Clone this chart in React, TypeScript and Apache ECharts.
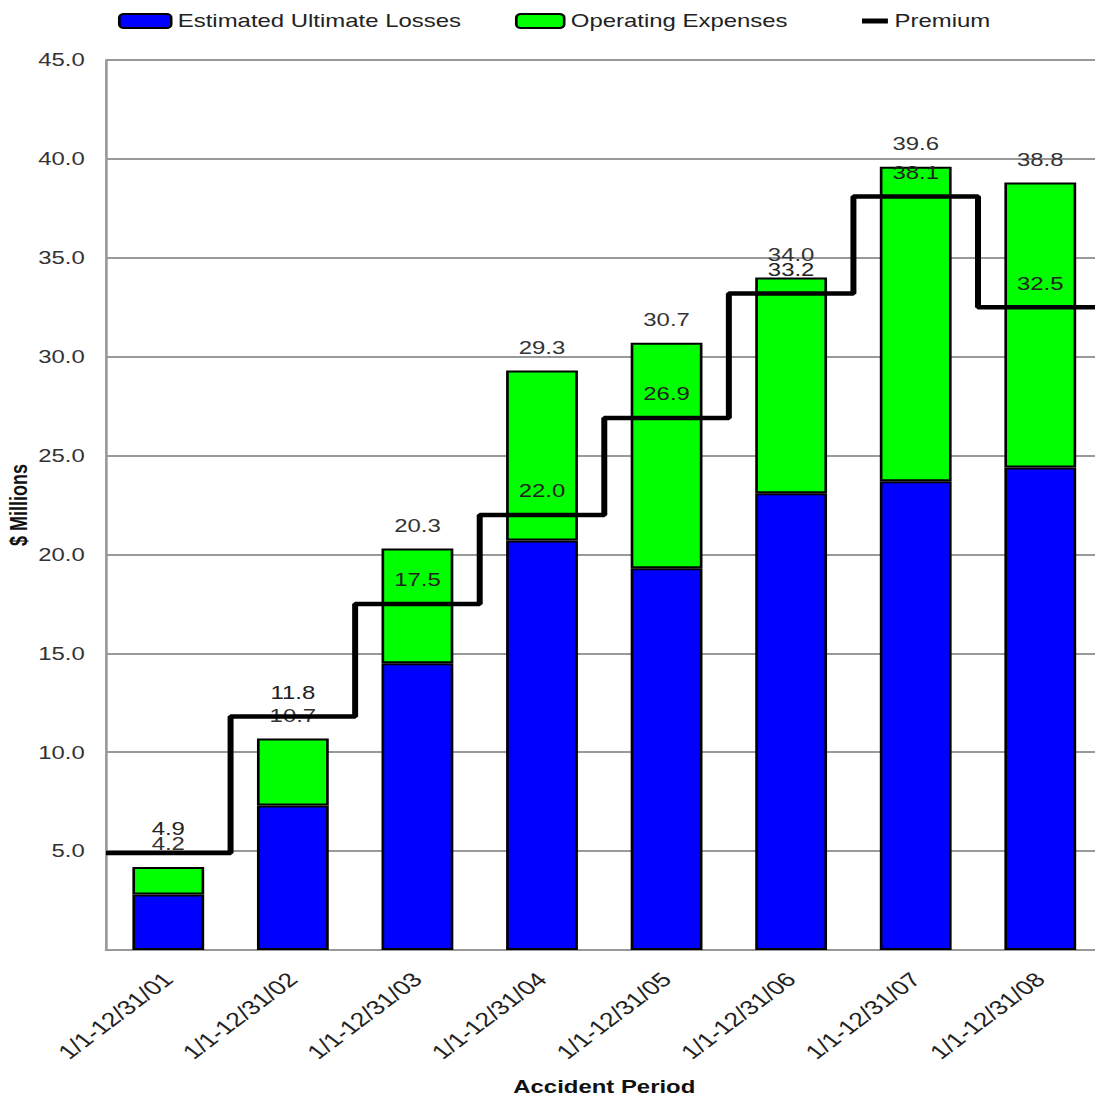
import React, { useEffect, useRef } from "react";
import * as echarts from "echarts";

// Accident periods and values ($ millions)
const periods = [
  "1/1-12/31/01",
  "1/1-12/31/02",
  "1/1-12/31/03",
  "1/1-12/31/04",
  "1/1-12/31/05",
  "1/1-12/31/06",
  "1/1-12/31/07",
  "1/1-12/31/08",
];
const ultimateLosses = [2.8, 7.3, 14.5, 20.7, 19.3, 23.1, 23.7, 24.4];
const operatingExpenses = [1.4, 3.4, 5.8, 8.6, 11.4, 10.9, 15.9, 14.4];
const premium = [4.9, 11.8, 17.5, 22.0, 26.9, 33.2, 38.1, 32.5];

const FONT = "Liberation Sans, Arial, sans-serif";
// the whole chart is drawn narrow and stretched horizontally
const STRETCH = 1.33;
const INNER_W = 830;
const H = 1100;

export default function App() {
  const ref = useRef<HTMLDivElement>(null);

  useEffect(() => {
    if (!ref.current) return;
    const chart = echarts.init(ref.current, null, { renderer: "svg" });

    // premium as a step line spanning each period, from the left edge to the right edge
    const n = premium.length;
    const premiumPoints: any[] = [
      { value: [0, premium[0]], label: { show: false } },
      ...premium.map((p, i) => ({ value: [i + 0.5, p] })),
      { value: [n, premium[n - 1]], label: { show: false } },
    ];

    const legendText = { fontSize: 18, color: "#222", fontFamily: FONT };

    chart.setOption({
      animation: false,
      backgroundColor: "#ffffff",
      textStyle: { fontFamily: FONT },
      legend: [
        {
          data: ["Estimated Ultimate Losses"],
          left: 88.7,
          top: 12,
          padding: 0,
          itemWidth: 39,
          itemHeight: 14,
          textStyle: legendText,
        },
        {
          data: ["Operating Expenses"],
          left: 387.2,
          top: 12,
          padding: 0,
          itemWidth: 36,
          itemHeight: 14,
          textStyle: legendText,
        },
        {
          data: [{ name: "Premium", icon: "rect" }],
          left: 648.1,
          top: 12,
          padding: 0,
          itemWidth: 19.5,
          itemHeight: 5,
          textStyle: legendText,
        },
      ],
      grid: { left: 79.7, right: 1, top: 60, bottom: 150, outerBoundsMode: "none" },
      xAxis: [
        {
          type: "category",
          data: periods,
          name: "Accident Period",
          nameLocation: "middle",
          nameGap: 128,
          nameMoveOverlap: false,
          nameTextStyle: { fontSize: 18, fontWeight: "bold", color: "#111", fontFamily: FONT },
          axisLine: { show: true, lineStyle: { color: "#999", width: 2 } },
          axisTick: { show: false },
          axisLabel: {
            interval: 0,
            rotate: 45,
            margin: 26,
            fontSize: 20,
            color: "#222",
            fontFamily: FONT,
          },
        },
        {
          type: "value",
          min: 0,
          max: n,
          show: false,
        },
      ],
      yAxis: {
        type: "value",
        min: 0,
        max: 45,
        interval: 5,
        name: "$ Millions",
        nameLocation: "middle",
        nameGap: 57,
        nameMoveOverlap: false,
        nameTextStyle: { fontSize: 18, fontWeight: "bold", color: "#111", fontFamily: FONT },
        axisLine: { show: true, lineStyle: { color: "#999", width: 2 } },
        axisTick: { show: false },
        splitLine: { show: true, lineStyle: { color: "#999", width: 2 } },
        axisLabel: {
          margin: 16,
          fontSize: 18,
          color: "#333",
          fontFamily: FONT,
          formatter: (v: number) => (v === 0 ? "" : v.toFixed(1)),
        },
      },
      series: [
        {
          name: "Estimated Ultimate Losses",
          type: "bar",
          stack: "total",
          xAxisIndex: 0,
          barWidth: 54,
          data: ultimateLosses,
          itemStyle: { color: "#0000ff", borderColor: "#000", borderWidth: 2 },
        },
        {
          name: "Operating Expenses",
          type: "bar",
          stack: "total",
          xAxisIndex: 0,
          barWidth: 54,
          data: operatingExpenses,
          itemStyle: { color: "#00ff00", borderColor: "#000", borderWidth: 2 },
          label: {
            show: true,
            position: "top",
            distance: 14,
            fontSize: 18,
            color: "#333",
            fontFamily: FONT,
            formatter: (p: any) =>
              (ultimateLosses[p.dataIndex] + operatingExpenses[p.dataIndex]).toFixed(1),
          },
        },
        {
          name: "Premium",
          type: "line",
          xAxisIndex: 1,
          step: "middle",
          data: premiumPoints,
          symbol: "circle",
          symbolSize: 0,
          itemStyle: { color: "#000" },
          lineStyle: { color: "#000", width: 4.5 },
          z: 5,
          label: {
            show: true,
            position: "top",
            distance: 15,
            fontSize: 18,
            color: "#222",
            fontFamily: FONT,
            formatter: (p: any) => Number(p.value[1]).toFixed(1),
          },
        },
      ],
    });

    return () => chart.dispose();
  }, []);

  return (
    <div
      style={{
        position: "absolute",
        left: 0,
        top: 0,
        width: 1095,
        height: H,
        overflow: "hidden",
        background: "#fff",
      }}
    >
      <div
        ref={ref}
        style={{
          width: INNER_W,
          height: H,
          transform: `scaleX(${STRETCH})`,
          transformOrigin: "0 0",
        }}
      />
    </div>
  );
}
